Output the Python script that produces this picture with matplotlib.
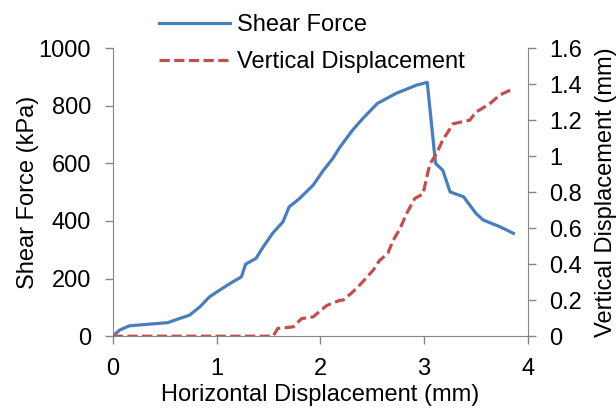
import numpy as np
import matplotlib.pyplot as plt

plt.rcParams['font.family'] = ['Liberation Sans', 'DejaVu Sans']
plt.rcParams['font.size'] = 17

# Shear force vs horizontal displacement
shear_x = [0.0, 0.065, 0.16, 0.36, 0.53, 0.64, 0.74, 0.84, 0.93, 1.03, 1.14, 1.24,
           1.28, 1.38, 1.45, 1.54, 1.64, 1.70, 1.80, 1.93, 2.03, 2.12, 2.19, 2.31,
           2.41, 2.55, 2.73, 2.93, 3.03, 3.11, 3.18, 3.25, 3.38, 3.50, 3.57, 3.73, 3.86]
shear_y = [0, 21, 36, 42, 47, 61, 73, 102, 136, 160, 185, 206,
           250, 270, 310, 357, 397, 449, 478, 524, 576, 617, 657, 715,
           756, 808, 843, 872, 881, 600, 576, 501, 484, 426, 403, 380, 357]

# Vertical displacement vs horizontal displacement
vert_x = [0.0, 1.545, 1.59, 1.74, 1.82, 1.93, 2.06, 2.19, 2.22, 2.35, 2.51, 2.57,
          2.65, 2.70, 2.77, 2.83, 2.91, 2.99, 3.04, 3.06, 3.12, 3.18, 3.28, 3.44,
          3.50, 3.63, 3.73, 3.86]
vert_y = [0.0, 0.0, 0.043, 0.052, 0.098, 0.107, 0.17, 0.2, 0.2, 0.265, 0.367, 0.42,
          0.46, 0.53, 0.6, 0.68, 0.765, 0.79, 0.92, 0.96, 1.015, 1.09, 1.18, 1.2,
          1.245, 1.29, 1.34, 1.375]

blue = '#4a7ebb'
red = '#c0504d'
grey = '#868686'

fig = plt.figure(figsize=(6.16, 4.08), dpi=100)
ax = fig.add_axes([0.183, 0.176, 0.674, 0.706])
ax2 = ax.twinx()

l1, = ax.plot(shear_x, shear_y, color=blue, lw=2.3, label='Shear Force')
l2, = ax2.plot(vert_x, vert_y, color=red, lw=2.3, ls=(0, (3.2, 1.4)),
               label='Vertical Displacement')

ax.set_xlim(0, 4)
ax.set_ylim(0, 1000)
ax2.set_ylim(0, 1.6)
ax.set_xticks([0, 1, 2, 3, 4])
ax.set_yticks(np.arange(0, 1001, 200))
ax2.set_yticks(np.arange(0, 1.61, 0.2))
ax2.set_yticklabels(['0', '0.2', '0.4', '0.6', '0.8', '1', '1.2', '1.4', '1.6'])

for a in (ax, ax2):
    a.spines['top'].set_visible(False)
    for s in ('left', 'right', 'bottom'):
        a.spines[s].set_color(grey)
    a.tick_params(colors=grey, labelcolor='black', length=5.5, width=1,
                  direction='out', pad=10)
ax.spines['right'].set_visible(False)
ax2.spines['left'].set_visible(False)
ax2.spines['bottom'].set_visible(False)

ax.set_xlabel('Horizontal Displacement (mm)', labelpad=3)
ax.set_ylabel('Shear Force (kPa)', labelpad=0)
ax2.set_ylabel('Vertical Displacement (mm)', labelpad=9)

fig.legend(handles=[l1, l2], loc='upper left', bbox_to_anchor=(0.243, 0.988),
           frameon=False, handlelength=3.0, handletextpad=0.3, labelspacing=0.62,
           borderaxespad=0)

fig.savefig('out.png', dpi=100)
